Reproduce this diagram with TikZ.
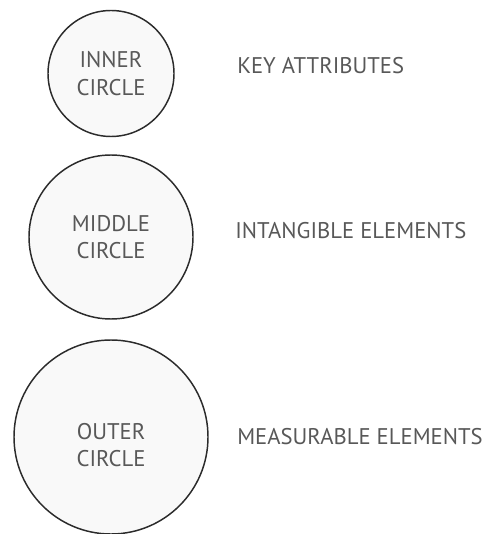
\documentclass[tikz,border=0pt]{standalone}
\usepackage{fontspec}
\setmainfont{PT Sans}
\usepackage{xcolor}
\definecolor{ringline}{RGB}{43,43,43}
\definecolor{ringfill}{RGB}{249,249,249}
\definecolor{labeltext}{RGB}{88,88,88}
\tikzset{
  ring/.style={circle, draw=ringline, fill=ringfill, line width=1.1pt, inner sep=0pt},
  ringtext/.style={align=center, text=labeltext, font=\fontsize{17}{20.5}\selectfont, inner sep=0.75pt},
  sidetext/.style={anchor=west, text=labeltext, font=\fontsize{17}{20.5}\selectfont, inner sep=0.75pt}
}
\begin{document}
\begin{tikzpicture}[x=0.75pt,y=0.75pt,yscale=-1,xscale=1]
\useasboundingbox (0,0) rectangle (494,534);

%Circles
\node [ring, minimum size=126*0.75pt] (inner) at (111,73.5) {};
\node [ring, minimum size=164*0.75pt] (middle) at (111,237) {};
\node [ring, minimum size=194*0.75pt] (outer) at (111,437) {};

% Text Node
\node [ringtext] (innertxt) at (inner.center) {INNER\\CIRCLE};
\node [ringtext] (middletxt) at (middle.center) {MIDDLE\\CIRCLE};
\node [ringtext, yshift=-6pt] (outertxt) at (outer.center) {OUTER\\CIRCLE};

% Text Node
\node [sidetext] (key) at (236,66) {KEY ATTRIBUTES};
\node [sidetext] (intangible) at (234,231) {INTANGIBLE ELEMENTS};
\node [sidetext] (measurable) at (236,437) {MEASURABLE ELEMENTS};

\end{tikzpicture}
\end{document}
